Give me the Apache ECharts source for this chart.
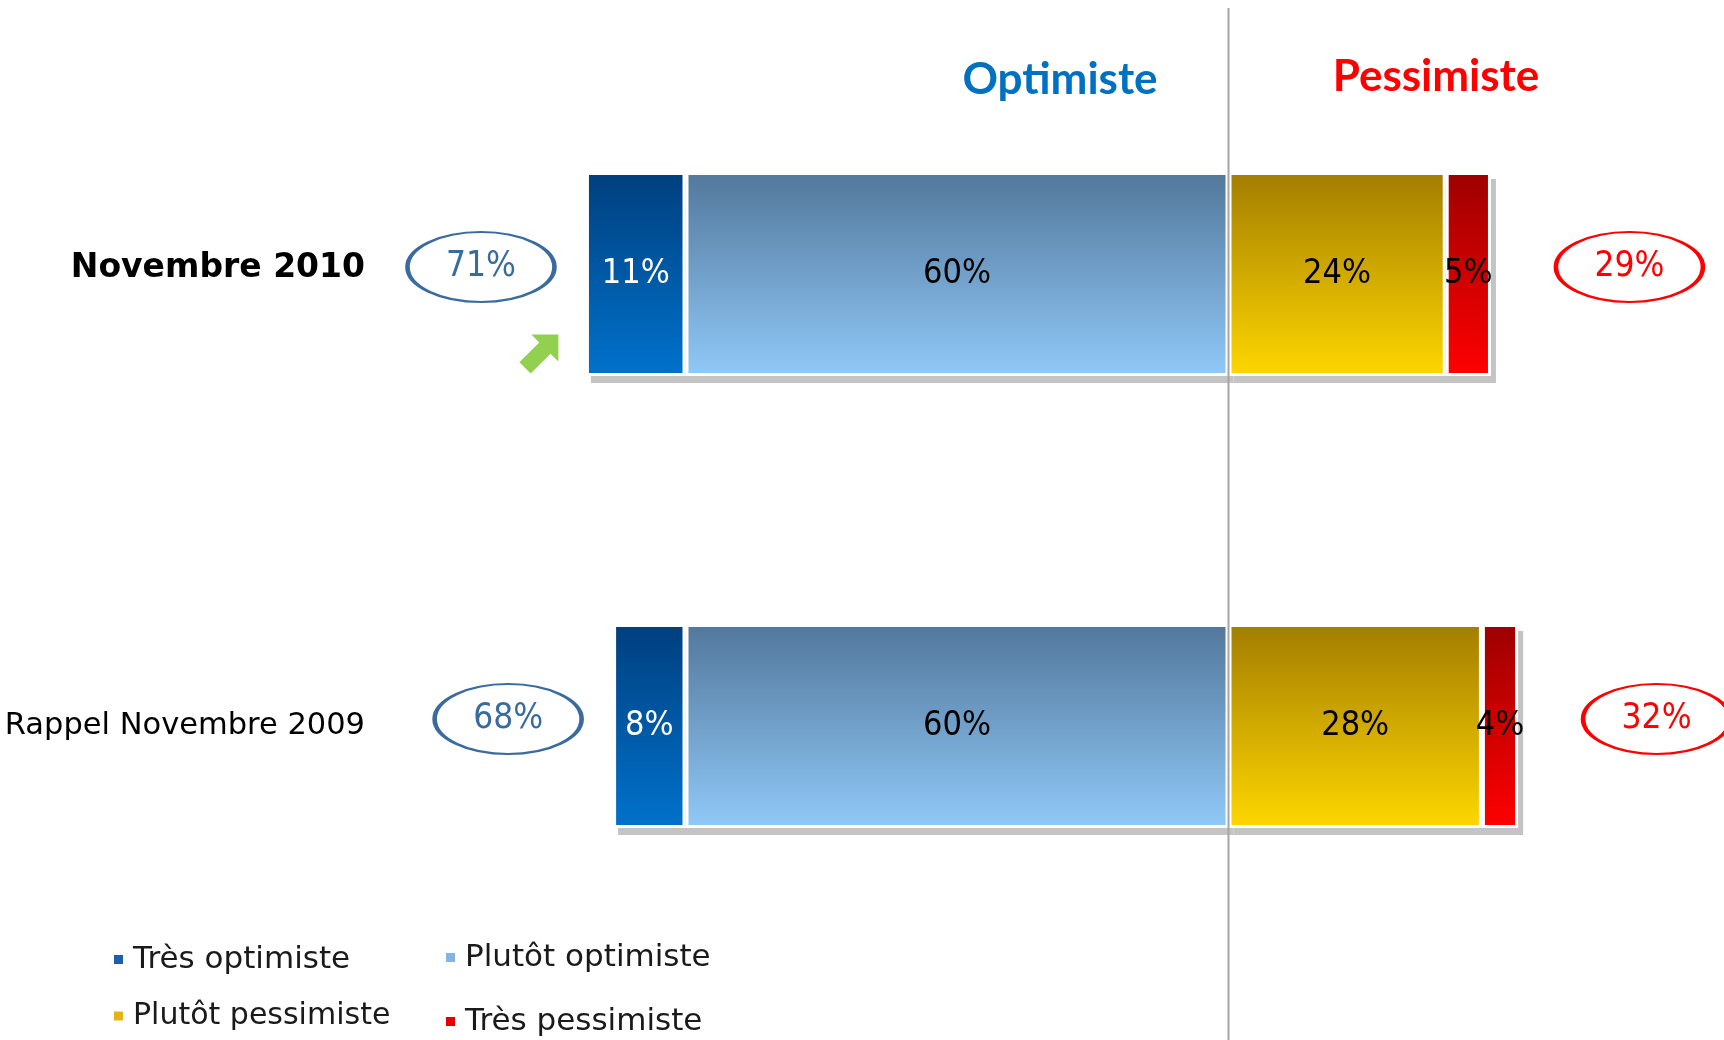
<!DOCTYPE html>
<html>
<head>
<meta charset="utf-8">
<script src="https://cdn.jsdelivr.net/npm/echarts@6/dist/echarts.min.js"></script>
<style>
  html, body { margin: 0; padding: 0; background: #fff; }
  #chart { width: 1724px; height: 1040px; }
</style>
</head>
<body>
<div id="chart"></div>
<script>
'use strict';

const CATEGORIES = ['Novembre 2010', 'Rappel Novembre 2009'];
const TRES_OPTIMISTE = [11, 8];
const PLUTOT_OPTIMISTE = [60, 60];
const PLUTOT_PESSIMISTE = [24, 28];
const TRES_PESSIMISTE = [5, 4];
const HEADERS = ['Optimiste', 'Pessimiste'];

const NARROW = '"Liberation Sans Narrow", "DejaVu Sans Condensed", "Liberation Sans", sans-serif';
const SANS = '"DejaVu Sans", Verdana, sans-serif';
const SHADOW = '#c4c4c4';

// totals shown in the ovals
const OPT_TOTALS = TRES_OPTIMISTE.map((v, i) => v + PLUTOT_OPTIMISTE[i]);
const PESS_TOTALS = PLUTOT_PESSIMISTE.map((v, i) => v + TRES_PESSIMISTE[i]);
const OVAL_GAP_LEFT = 11.6;
const OVAL_GAP_RIGHT = 15.3;
const ARROW_GAP = 5.2;

const GRID = {left: 414, width: 1267, top: 48, height: 904};
const SHADOW_DX = 5;
const SHADOW_DY = 7;

const ELLIPSE = 'path://M0,35 C0,15.67 32.9,0 73.5,0 C114.1,0 147,15.67 147,35 C147,54.33 114.1,70 73.5,70 C32.9,70 0,54.33 0,35 Z';
const ARROW = 'path://M2.8,0 L10,0 L10,7.2 L7.9,5.1 L2.6,10.4 L-0.4,7.4 L4.9,2.1 Z';

function vGrad(top, bottom) {
  return new echarts.graphic.LinearGradient(0, 0, 0, 1, [
    {offset: 0, color: top},
    {offset: 1, color: bottom}
  ]);
}

function barSeries(name, values, top, bottom, labelColor, sign) {
  return {
    type: 'bar',
    name: name,
    stack: 'total',
    barWidth: 204,
    z: 3,
    data: values.map(v => sign * v),
    itemStyle: {
      color: vGrad(top, bottom),
      borderColor: '#fff',
      borderWidth: 3
    },
    label: {
      show: true,
      position: 'inside',
      formatter: p => Math.abs(p.value) + '%',
      fontFamily: NARROW,
      fontSize: 34,
      color: labelColor
    },
    emphasis: {disabled: true}
  };
}

// grey drop shadow, drawn on a second grid shifted right/down
function shadowSeries(values) {
  return {
    type: 'bar',
    name: 'ombre',
    xAxisIndex: 1,
    yAxisIndex: 1,
    stack: 'ombre',
    barWidth: 204,
    z: 1,
    silent: true,
    data: values,
    itemStyle: {color: SHADOW}
  };
}

function ovalSeries(name, totals, xs, color) {
  return {
    type: 'scatter',
    name: name,
    clip: false,
    silent: true,
    z: 4,
    symbol: ELLIPSE,
    symbolSize: [147, 70],
    symbolOffset: [0, -7],
    itemStyle: {color: '#fff', borderColor: color, borderWidth: 3.2, opacity: 1},
    label: {
      show: true,
      position: 'inside',
      formatter: p => totals[p.dataIndex] + '%',
      fontFamily: NARROW,
      fontSize: 35,
      color: color
    },
    data: xs.map((x, i) => [x, i])
  };
}

const chart = echarts.init(document.getElementById('chart'), null, {renderer: 'canvas'});

const legendText = {fontFamily: SANS, fontSize: 31, color: '#1a1a1a', lineHeight: 30, padding: [0, 0, 0, 4]};

chart.setOption({
  animation: false,
  backgroundColor: '#fff',
  grid: [
    Object.assign({outerBoundsMode: 'none'}, GRID),
    Object.assign({outerBoundsMode: 'none'}, GRID, {left: GRID.left + SHADOW_DX, top: GRID.top + SHADOW_DY})
  ],
  xAxis: [
    {type: 'value', min: -90, max: 50, show: false, gridIndex: 0},
    {type: 'value', min: -90, max: 50, show: false, gridIndex: 1}
  ],
  yAxis: [
    {
      type: 'category',
      gridIndex: 0,
      inverse: true,
      data: CATEGORIES,
      axisLine: {show: false},
      axisTick: {show: false},
      splitLine: {show: false},
      axisLabel: {
        margin: 49,
        formatter: (v, i) => (i === 0 ? '{b|' + v + '}' : '{n|' + v + '}'),
        rich: {
          b: {fontFamily: SANS, fontWeight: 'bold', fontSize: 33, color: '#000', padding: [0, 0, 12, 0]},
          n: {fontFamily: SANS, fontSize: 30.5, color: '#000'}
        }
      }
    },
    {type: 'category', gridIndex: 1, inverse: true, data: CATEGORIES, show: false}
  ],
  legend: [
    {
      orient: 'vertical', left: 112, top: 944, padding: 0, height: 96,
      itemWidth: 11, itemHeight: 11, itemGap: 26, icon: 'rect',
      selectedMode: false, textStyle: legendText,
      data: [
        {name: 'Très optimiste', itemStyle: {color: '#1d5fae'}},
        {name: 'Plutôt pessimiste', itemStyle: {color: '#e4b416'}, textStyle: {fontSize: 30}}
      ]
    },
    {
      orient: 'vertical', left: 444, top: 942, padding: 0, height: 98,
      itemWidth: 11, itemHeight: 11, itemGap: 33, icon: 'rect',
      selectedMode: false, textStyle: legendText,
      data: [
        {name: 'Plutôt optimiste', itemStyle: {color: '#86b3e0'}},
        {name: 'Très pessimiste', itemStyle: {color: '#e00000'}}
      ]
    }
  ],
  series: [
    shadowSeries(OPT_TOTALS.map(t => -t)),
    shadowSeries(PESS_TOTALS),
    barSeries('Plutôt optimiste', PLUTOT_OPTIMISTE, '#52779b', '#90c9f8', '#000', -1),
    barSeries('Très optimiste', TRES_OPTIMISTE, '#003f7e', '#0072cc', '#fff', -1),
    barSeries('Plutôt pessimiste', PLUTOT_PESSIMISTE, '#a37d00', '#fed700', '#000', 1),
    barSeries('Très pessimiste', TRES_PESSIMISTE, '#9e0000', '#ff0000', '#000', 1),
    ovalSeries('total optimiste', OPT_TOTALS, OPT_TOTALS.map(t => -(t + OVAL_GAP_LEFT)), '#3a6b9e'),
    ovalSeries('total pessimiste', PESS_TOTALS, PESS_TOTALS.map(t => t + OVAL_GAP_RIGHT), '#ff0000'),
    {
      type: 'scatter',
      name: 'hausse',
      clip: false,
      silent: true,
      z: 4,
      symbol: ARROW,
      symbolSize: [39, 39],
      symbolOffset: [0, 80],
      itemStyle: {color: '#92d050', opacity: 1},
      data: [[-(OPT_TOTALS[0] + ARROW_GAP), 0]]
    }
  ]
});

// zero divider and the two headers
const zeroX = chart.convertToPixel({xAxisIndex: 0}, 0);
chart.setOption({
  graphic: [
    {
      type: 'line', z: 100,
      shape: {x1: zeroX, y1: 8, x2: zeroX, y2: 1040},
      style: {stroke: '#a6a6a6', lineWidth: 2}
    },
    {
      type: 'text', x: 1060, y: 80,
      style: {text: HEADERS[0], fontFamily: 'Lato, "Open Sans", sans-serif', fontWeight: 'bold', fontSize: 44,
        fill: '#0070c0', align: 'center', verticalAlign: 'middle'}
    },
    {
      type: 'text', x: 1436, y: 77,
      style: {text: HEADERS[1], fontFamily: 'Lato, "Open Sans", sans-serif', fontWeight: 'bold', fontSize: 44,
        fill: '#ff0000', align: 'center', verticalAlign: 'middle'}
    }
  ]
});
</script>
</body>
</html>
